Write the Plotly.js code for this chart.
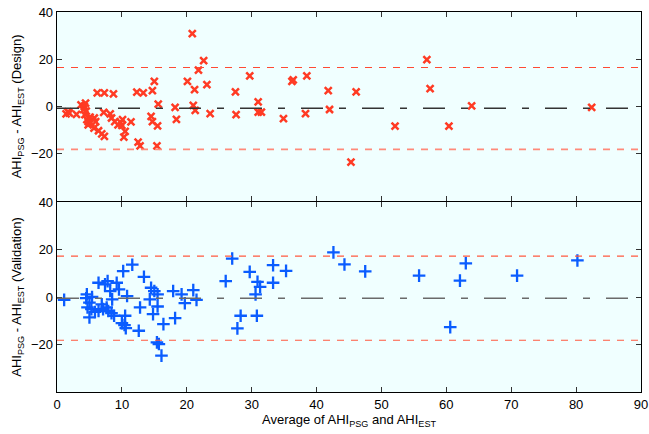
<!DOCTYPE html>
<html>
<head>
<meta charset="utf-8">
<script src="https://cdn.plot.ly/plotly-3.0.1.min.js"></script>
<style>html,body{margin:0;padding:0;background:#fff;}#chart{width:649px;height:434px;}</style>
</head>
<body>
<div id="chart"></div>
<script>
const designX = [1.4,1.7,1.9,3.0,3.7,4.4,4.2,4.1,4.3,4.6,4.8,5.1,5.75,5.96,4.8,5.7,6.4,6.9,7.3,6.2,7.3,8.7,7.2,8.2,8.4,8.9,9.4,10.1,10.5,10.3,11.4,12.3,13.3,14.7,15.0,15.6,14.5,14.7,15.5,12.5,12.8,15.4,20.85,22.6,21.8,20.1,21.2,23.1,29.7,27.5,31.0,31.0,31.5,27.6,23.6,21.0,21.3,18.2,18.4,34.9,36.4,36.2,38.5,41.8,46.1,57.0,57.5,42.0,38.3,52.1,60.4,63.9,82.4,45.3,4.5,5.2,9.8,10.0];
const designY = [-3.2,-2.3,-2.8,-3.4,0.7,1.4,0.0,-1.4,-3.5,-5.6,-6.4,-4.5,-4.9,-6.4,-7.8,-9.2,-10.3,-11.6,-12.7,5.7,5.7,5.3,-2.5,-3.2,-4.9,-6.4,-7.8,-5.6,-10.6,-13.0,-6.5,6.1,5.7,6.7,10.6,1.0,-4.2,-6.4,-8.2,-15.1,-16.7,-16.7,30.8,19.4,15.4,10.6,7.1,9.2,12.9,6.2,1.9,-2.4,-2.4,-3.5,-3.0,0.4,-1.7,-0.4,-5.5,-5.2,11.2,10.6,12.9,6.7,6.2,19.8,7.5,-1.3,-3.0,-8.3,-8.3,0.2,-0.4,-23.6,-2.0,-7.0,-6.8,-8.0];

const validationX = [1.1,4.6,4.5,5.4,5.0,4.7,5.3,5.85,5.0,6.4,6.9,7.1,7.65,7.9,8.4,8.8,8.5,6.4,7.4,7.8,8.2,9.2,9.55,10.2,11.6,10.8,10.5,10.0,10.4,10.6,12.6,12.8,13.4,14.5,15.0,15.5,14.3,15.5,14.8,16.4,15.4,15.7,16.1,17.9,19.2,21.0,21.5,19.7,18.2,26.0,27.0,29.7,28.3,27.8,30.9,31.3,30.6,30.8,33.3,33.3,35.3,42.6,44.3,47.5,55.8,60.6,62.1,63.0,70.9,80.2];
const validationY = [-1.2,1.1,-0.5,0.0,-2.4,-4.4,-5.1,-6.3,-8.6,-5.9,-3.1,-5.1,-4.4,-5.9,-6.8,-7.9,-1.0,6.0,5.3,6.7,2.5,6.0,3.2,10.9,13.6,0.4,-7.9,-11.0,-11.8,-13.1,-14.2,-4.4,8.5,3.9,2.5,1.1,-1.0,-4.0,-7.2,-11.4,-19.1,-19.8,-24.7,2.5,1.1,2.9,-1.2,-2.6,-8.9,6.7,16.2,10.6,-7.9,-13.2,6.4,4.3,1.1,-7.9,13.4,6.0,11.0,18.8,13.7,10.8,9.0,-12.7,6.9,14.2,9.0,15.4];

// [upper limit, mean bias, lower limit]
const designLimits = [16.5, -0.8, -18.2];
const validationLimits = [17.2, -0.5, -18.2];

const xTicks = [0,10,20,30,40,50,60,70,80,90];
const yTicks = [40,20,0,-20];

const font = {family: '"Liberation Sans", Arial, Helvetica, sans-serif', size: 13, color: '#000'};

const traces = [
  {x: designX, y: designY, xaxis: 'x2', yaxis: 'y2', mode: 'markers', type: 'scatter',
   marker: {symbol: 'x-thin-open', size: 7, color: '#FF3B24', line: {color: '#FF3B24', width: 2.5}}, hoverinfo: 'x+y'},
  {x: validationX, y: validationY, xaxis: 'x', yaxis: 'y', mode: 'markers', type: 'scatter',
   marker: {symbol: 'cross-thin-open', size: 9, color: '#0A5CFF', line: {color: '#0A5CFF', width: 2.3}}, hoverinfo: 'x+y'}
];

function limitShapes(lims, yref, meanColor, upColor, lowColor, lowWidth) {
  return [
    {type: 'line', xref: 'x', yref: yref, x0: 0, x1: 90, y0: lims[0], y1: lims[0],
     line: {color: upColor, width: 1.2, dash: '7px,7px'}},
    {type: 'line', xref: 'x', yref: yref, x0: 0, x1: 90, y0: lims[1], y1: lims[1],
     line: {color: meanColor, width: 1.6, dash: '22px,16px,7px,16px'}},
    {type: 'line', xref: 'x', yref: yref, x0: 0, x1: 90, y0: lims[2], y1: lims[2],
     line: {color: lowColor, width: lowWidth, dash: '7px,7px'}}
  ];
}

const axisCommon = {showgrid: false, zeroline: false, showline: true, linecolor: '#000', linewidth: 1.3,
  mirror: 'ticks', ticks: 'inside', ticklen: 5, tickcolor: '#333', tickfont: font};

const layout = {
  width: 649, height: 434,
  margin: {l: 57, r: 8, t: 12, b: 42},
  paper_bgcolor: '#ffffff',
  plot_bgcolor: '#F0FFFF',
  showlegend: false,
  font: font,
  xaxis: Object.assign({}, axisCommon, {domain: [0,1], anchor: 'y', range: [0,90], tickvals: xTicks,
    title: {text: 'Average of AHI<sub>PSG</sub> and AHI<sub>EST</sub>', font: font, standoff: 3}}),
  yaxis: Object.assign({}, axisCommon, {domain: [0,0.5], anchor: 'x', range: [-40,40], tickvals: yTicks,
    title: {text: 'AHI<sub>PSG</sub> - AHI<sub>EST</sub> (Validation)', font: font, standoff: 6}}),
  xaxis2: Object.assign({}, axisCommon, {domain: [0,1], anchor: 'y2', range: [0,90], tickvals: xTicks, showticklabels: false, matches: 'x'}),
  yaxis2: Object.assign({}, axisCommon, {domain: [0.503,1], anchor: 'x2', range: [-40,40], tickvals: yTicks,
    title: {text: 'AHI<sub>PSG</sub> - AHI<sub>EST</sub> (Design)', font: font, standoff: 6}}),
  shapes: [].concat(
    limitShapes(designLimits, 'y2', '#333333', '#FF4A33', '#FF8A7A', 1.8),
    limitShapes(validationLimits, 'y', '#6A6A6A', '#FF5A40', '#FF5A40', 1.2)
  )
};

Plotly.newPlot('chart', traces, layout, {displayModeBar: false, staticPlot: true});
</script>
</body>
</html>
